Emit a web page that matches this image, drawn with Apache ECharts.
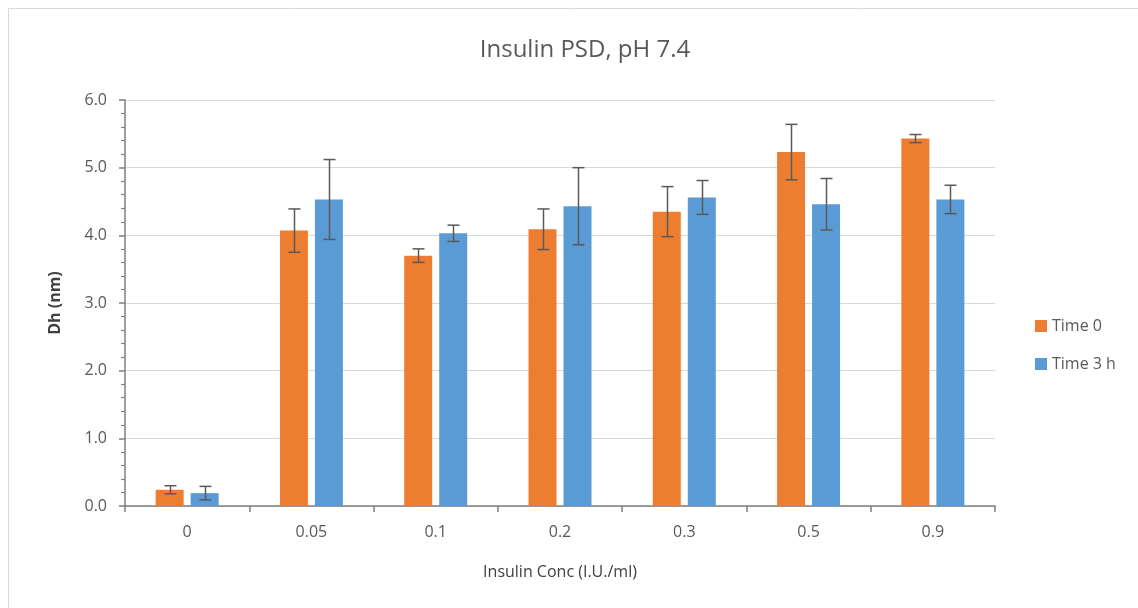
<!DOCTYPE html>
<html><head><meta charset="utf-8">
<script src="https://cdn.jsdelivr.net/npm/echarts@6/dist/echarts.min.js"></script>
<style>html,body{margin:0;padding:0;background:#fff}#c{width:1138px;height:608px}</style>
</head><body><div id="c"></div>
<script>
var categories = ['0', '0.05', '0.1', '0.2', '0.3', '0.5', '0.9'];
var time0 = [0.24, 4.07, 3.70, 4.09, 4.35, 5.23, 5.43];
var time0Err = [0.06, 0.32, 0.10, 0.30, 0.37, 0.41, 0.06];
var time3h = [0.19, 4.53, 4.03, 4.43, 4.56, 4.46, 4.53];
var time3hErr = [0.10, 0.59, 0.12, 0.57, 0.25, 0.38, 0.21];
var yTicks = [0, 1, 2, 3, 4, 5, 6];

var BAR_W = 28, GAP = 7;
var FONT = 'Open Sans';
var chart = echarts.init(document.getElementById('c'));

function errSeries(vals, errs, side) {
  return {
    type: 'custom',
    silent: true,
    z: 5,
    data: vals.map(function (v, i) { return [i, v, errs[i]]; }),
    renderItem: function (params, api) {
      var i = api.value(0), v = api.value(1), e = api.value(2);
      var off = side * (BAR_W + GAP) / 2;
      var top = api.coord([i, v + e]);
      var bot = api.coord([i, v - e]);
      var x = Math.round(top[0] + off) + 0.5;
      var cw = 6;
      var st = { stroke: '#595959', lineWidth: 1.5 };
      return { type: 'group', children: [
        { type: 'line', shape: { x1: x, y1: top[1], x2: x, y2: bot[1] }, style: st },
        { type: 'line', shape: { x1: x - cw, y1: top[1], x2: x + cw, y2: top[1] }, style: st },
        { type: 'line', shape: { x1: x - cw, y1: bot[1], x2: x + cw, y2: bot[1] }, style: st }
      ]};
    }
  };
}

chart.setOption({
  animation: false,
  textStyle: { fontFamily: FONT },
  graphic: [{ type: 'rect', shape: { x: 8.5, y: 8.5, width: 1140, height: 620 }, style: { fill: 'none', stroke: '#d9d9d9', lineWidth: 1 }, silent: true }],
  title: { text: 'Insulin PSD, pH 7.4', left: 580, top: 33, textAlign: 'center',
    textStyle: { fontFamily: FONT, fontSize: 24, fontWeight: 'normal', color: '#595959' } },
  legend: {
    orient: 'vertical', left: 1030, top: 313, itemWidth: 12, itemHeight: 12, itemGap: 22,
    icon: 'rect',
    textStyle: { fontFamily: FONT, fontSize: 16, color: '#595959' },
    data: ['Time 0', 'Time 3 h']
  },
  grid: { left: 125, right: 143, top: 100, bottom: 102, containLabel: false },
  xAxis: {
    type: 'category', data: categories,
    name: 'Insulin Conc (I.U./ml)', nameLocation: 'middle', nameGap: 58,
    nameTextStyle: { fontFamily: FONT, fontSize: 16, color: '#404040' },
    axisLine: { lineStyle: { color: '#7f7f7f', width: 1.5 } },
    axisTick: { show: true, alignWithLabel: false, length: 6, lineStyle: { color: '#7f7f7f', width: 1.5 } },
    axisLabel: { fontFamily: FONT, fontSize: 16, color: '#595959', margin: 18 }
  },
  yAxis: {
    type: 'value', min: 0, max: 6, interval: 1,
    name: 'Dh (nm)', nameLocation: 'middle', nameGap: 62, nameRotate: 90,
    nameTextStyle: { fontFamily: FONT, fontSize: 16, fontWeight: 'bold', color: '#404040' },
    axisLine: { show: true, lineStyle: { color: '#7f7f7f', width: 1.5 } },
    axisTick: { show: true, length: 6, lineStyle: { color: '#7f7f7f', width: 1.5 } },
    minorTick: { show: true, splitNumber: 5, length: 4, lineStyle: { color: '#7f7f7f', width: 1.2 } },
    splitLine: { lineStyle: { color: '#d9d9d9', width: 1 } },
    axisLabel: { fontFamily: FONT, fontSize: 16, color: '#595959', margin: 18,
      formatter: function (v) { return yTicks.indexOf(v) >= 0 ? v.toFixed(1) : ''; } }
  },
  series: [
    { name: 'Time 0', type: 'bar', data: time0, barWidth: BAR_W, barGap: '25%', itemStyle: { color: '#ED7D31' } },
    { name: 'Time 3 h', type: 'bar', data: time3h, barWidth: BAR_W, barGap: '25%', itemStyle: { color: '#5B9BD5' } },
    errSeries(time0, time0Err, -1),
    errSeries(time3h, time3hErr, 1)
  ]
});
</script></body></html>
